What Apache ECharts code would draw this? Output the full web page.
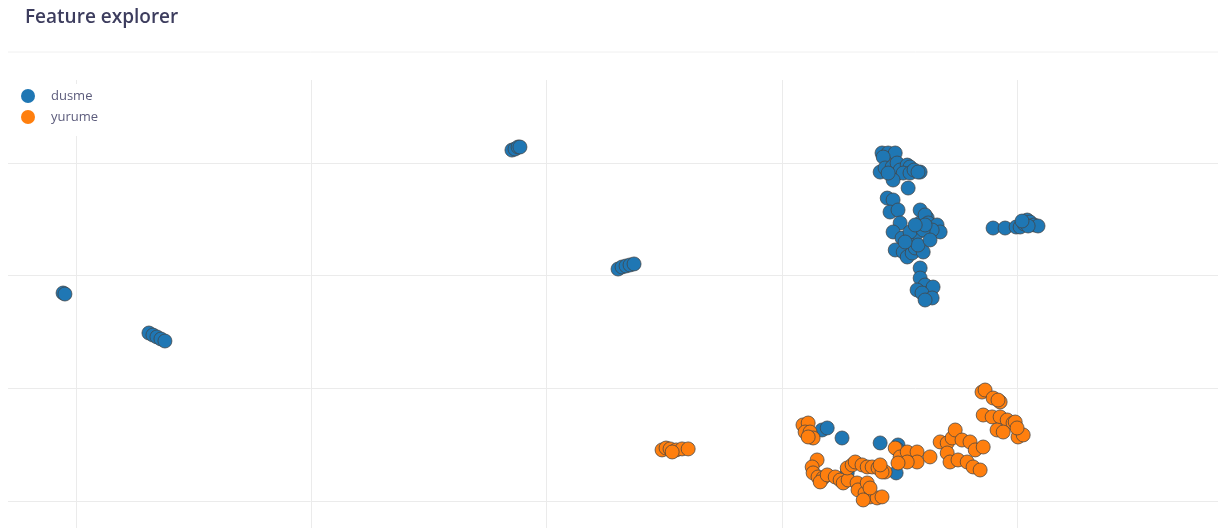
<!DOCTYPE html>
<html>
<head>
<meta charset="utf-8">
<script src="https://cdn.jsdelivr.net/npm/echarts@6/dist/echarts.min.js"></script>
<style>
  html, body { margin: 0; padding: 0; background: #fff; }
  #chart { width: 1218px; height: 528px; }
</style>
</head>
<body>
<div id="chart"></div>
<script>
// embedding coordinates (x, y)
const dusme = [
  [-0.055, 1.846], [-0.047, 1.837],
  [0.310, 1.491], [0.327, 1.473], [0.344, 1.456], [0.361, 1.438], [0.378, 1.420],
  [1.853, 3.115], [1.866, 3.124], [1.879, 3.142], [1.887, 3.142],
  [2.304, 2.059], [2.321, 2.077], [2.338, 2.086], [2.355, 2.095], [2.372, 2.104],
  [3.898, 2.423], [3.949, 2.423], [3.996, 2.432], [4.013, 2.432], [4.030, 2.459],
  [4.043, 2.494], [4.055, 2.476], [4.072, 2.450], [4.089, 2.441], [4.047, 2.441], [4.021, 2.485],
  [3.426, 3.089], [3.452, 3.089], [3.482, 3.089], [3.431, 3.053], [3.418, 2.920],
  [3.439, 2.956], [3.469, 2.965], [3.490, 3.000], [3.482, 2.894], [3.503, 2.938],
  [3.533, 2.982], [3.545, 2.965], [3.516, 2.911], [3.545, 2.911], [3.588, 2.920],
  [3.537, 2.778], [3.473, 2.849], [3.452, 2.911], [3.562, 2.938], [3.579, 2.920],
  [3.448, 2.689], [3.473, 2.672], [3.460, 2.565], [3.494, 2.583], [3.503, 2.468],
  [3.473, 2.388], [3.511, 2.334], [3.482, 2.228], [3.516, 2.210], [3.533, 2.166],
  [3.554, 2.201], [3.567, 2.246], [3.601, 2.210], [3.558, 2.317], [3.575, 2.379],
  [3.545, 2.388], [3.588, 2.468], [3.618, 2.512], [3.588, 2.583], [3.609, 2.539],
  [3.622, 2.468], [3.660, 2.450], [3.673, 2.388], [3.639, 2.405], [3.601, 2.405],
  [3.579, 2.272], [3.609, 2.450], [3.567, 2.450], [3.524, 2.299], [3.630, 2.317],
  [3.588, 2.068], [3.588, 1.979], [3.609, 1.917], [3.575, 1.873], [3.630, 1.855],
  [3.643, 1.899], [3.596, 1.846], [3.639, 1.802], [3.609, 1.784],
  [3.171, 0.630], [3.193, 0.648], [3.256, 0.559], [3.418, 0.515], [3.494, 0.497],
  [3.486, 0.249], [3.278, 0.249], [3.490, 0.462]
];

const yurume = [
  [2.491, 0.453], [2.508, 0.470], [2.525, 0.462], [2.551, 0.453], [2.576, 0.462],
  [2.602, 0.462], [2.534, 0.435],
  [3.090, 0.675], [3.112, 0.692], [3.099, 0.612], [3.120, 0.612], [3.133, 0.559], [3.112, 0.568],
  [3.150, 0.364], [3.129, 0.302], [3.133, 0.249], [3.154, 0.213], [3.175, 0.204],
  [3.163, 0.169], [3.193, 0.231], [3.227, 0.213], [3.248, 0.186], [3.261, 0.160],
  [3.282, 0.186], [3.278, 0.293], [3.299, 0.320], [3.312, 0.346], [3.341, 0.320],
  [3.363, 0.302], [3.384, 0.302], [3.409, 0.293], [3.439, 0.257], [3.426, 0.257],
  [3.418, 0.320], [3.320, 0.160], [3.324, 0.098], [3.354, 0.071], [3.375, 0.036],
  [3.405, 0.027], [3.426, 0.036], [3.363, 0.160], [3.375, 0.115], [3.346, 0.009],
  [3.482, 0.470], [3.503, 0.391], [3.533, 0.435], [3.575, 0.435], [3.575, 0.346],
  [3.533, 0.346], [3.494, 0.337], [3.630, 0.391],
  [3.673, 0.524], [3.703, 0.515], [3.724, 0.559], [3.737, 0.630], [3.766, 0.541],
  [3.800, 0.524], [3.822, 0.453], [3.856, 0.479], [3.703, 0.426], [3.715, 0.346],
  [3.749, 0.364], [3.788, 0.346], [3.813, 0.302], [3.843, 0.275],
  [3.851, 0.967], [3.864, 0.985], [3.898, 0.914], [3.928, 0.879], [3.919, 0.896],
  [3.856, 0.763], [3.894, 0.746], [3.928, 0.746], [3.958, 0.719], [3.983, 0.692],
  [3.992, 0.701], [3.915, 0.630], [3.941, 0.612], [4.004, 0.568], [4.026, 0.586],
  [4.000, 0.648]
];

const font = '"Open Sans", "Noto Sans", sans-serif';

const pointStyle = (color) => ({
  color: color,
  opacity: 1,
  borderColor: 'rgba(68,68,68,0.75)',
  borderWidth: 1
});

const getOption = () => {
  return {
    animation: false,
    title: {
      text: 'Feature explorer',
      left: 20,
      top: 3,
      textStyle: { fontFamily: font, fontSize: 19, fontWeight: 600, color: '#3d3d5e' }
    },
    graphic: [{
      type: 'line',
      shape: { x1: 8, y1: 52, x2: 1218, y2: 52 },
      style: { stroke: '#f0f0f0', lineWidth: 1 }
    }],
    legend: {
      orient: 'vertical',
      left: 16,
      top: 84,
      padding: [5, 10, 12, 5],
      backgroundColor: '#fff',
      itemWidth: 36,
      itemHeight: 14,
      itemGap: 7,
      icon: 'circle',
      itemStyle: { borderWidth: 0 },
      textStyle: { fontFamily: font, fontSize: 13, color: '#5c5c7c' },
      data: ['dusme', 'yurume']
    },
    grid: { left: 8, right: 0, top: 80, bottom: 0 },
    xAxis: {
      type: 'value',
      min: -0.289,
      max: 4.854,
      axisLine: { show: false },
      axisTick: { show: false },
      axisLabel: { show: false },
      splitLine: { show: true, showMinLine: false, showMaxLine: false, lineStyle: { color: '#ebebeb' } }
    },
    yAxis: {
      type: 'value',
      min: -0.24,
      max: 3.737,
      axisLine: { show: false },
      axisTick: { show: false },
      axisLabel: { show: false },
      splitLine: { show: true, showMinLine: false, showMaxLine: false, lineStyle: { color: '#ebebeb' } }
    },
    series: [
      {
        name: 'dusme',
        type: 'scatter',
        symbolSize: 14,
        data: dusme,
        itemStyle: pointStyle('#1f77b4')
      },
      {
        name: 'yurume',
        type: 'scatter',
        symbolSize: 14,
        data: yurume,
        itemStyle: pointStyle('#ff7f0e')
      }
    ]
  };
};

window.addEventListener('load', () => {
  const chart = echarts.init(document.getElementById('chart'));
  chart.setOption(getOption());
});
</script>
</body>
</html>
